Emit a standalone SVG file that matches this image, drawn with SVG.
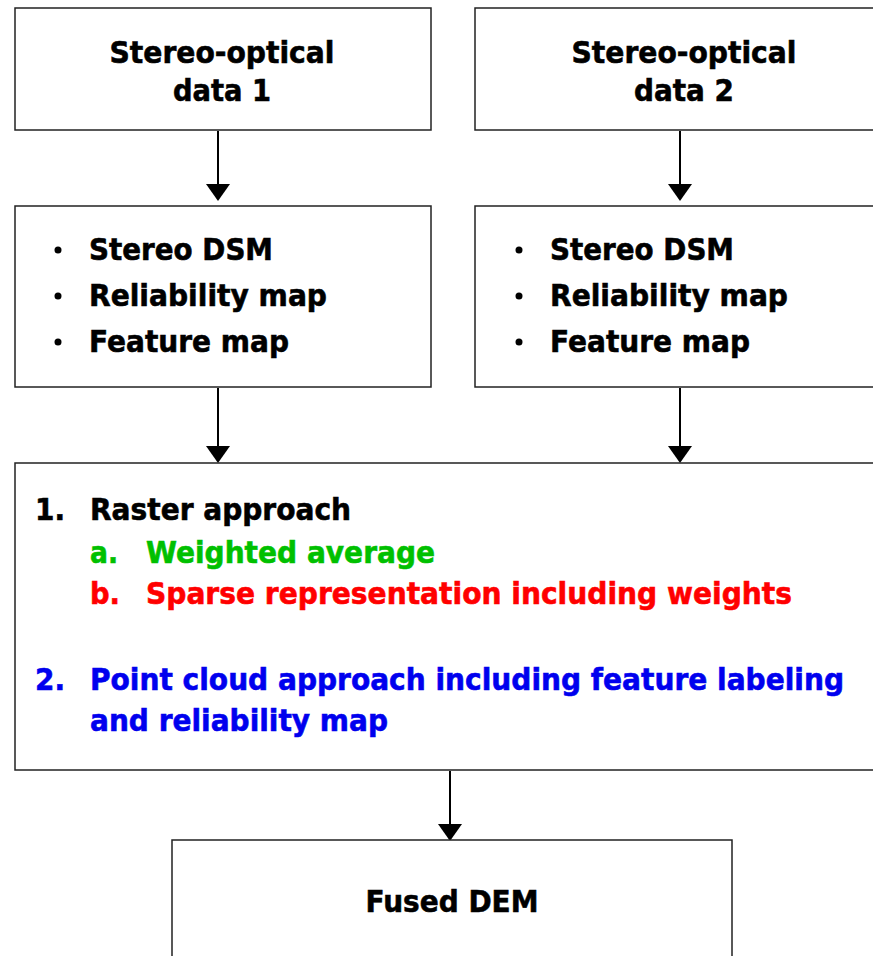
<svg xmlns="http://www.w3.org/2000/svg" width="873" height="956" viewBox="0 0 873 956">
<style>
.box{fill:#fff;stroke:#222;stroke-width:1.5}
text{font-family:"DejaVu Sans","Liberation Sans",sans-serif;font-weight:bold;font-size:30px;fill:#000;stroke:#000;stroke-width:0.6}
.c{text-anchor:middle}
text.g{fill:#00c000;stroke:#00c000}
text.r{fill:#ff0000;stroke:#ff0000}
text.b{fill:#0000ee;stroke:#0000ee}
.ln{stroke:#000;stroke-width:2}
</style>
<g id="connectors">
<line class="ln" x1="218" y1="131" x2="218" y2="186"/>
<path d="M206,184 L230,184 L218,201 Z"/>
<line class="ln" x1="680" y1="131" x2="680" y2="186"/>
<path d="M668,184 L692,184 L680,201 Z"/>
<line class="ln" x1="218" y1="388" x2="218" y2="447"/>
<path d="M206,446 L230,446 L218,463 Z"/>
<line class="ln" x1="680" y1="388" x2="680" y2="447"/>
<path d="M668,446 L692,446 L680,463 Z"/>
<line class="ln" x1="450" y1="771" x2="450" y2="825"/>
<path d="M438,824 L462,824 L450,841 Z"/>
</g>
<g id="n1">
<rect class="box" x="15" y="8" width="416" height="122"/>
<text x="222" y="63" class="c" textLength="225" lengthAdjust="spacingAndGlyphs">Stereo-optical</text>
<text x="222" y="101" class="c" textLength="98" lengthAdjust="spacingAndGlyphs">data 1</text>
</g>
<g id="n2">
<rect class="box" x="475" y="8" width="410" height="122"/>
<text x="684" y="63" class="c" textLength="225" lengthAdjust="spacingAndGlyphs">Stereo-optical</text>
<text x="684" y="101" class="c" textLength="100" lengthAdjust="spacingAndGlyphs">data 2</text>
</g>
<g id="n3">
<rect class="box" x="15" y="206" width="416" height="181"/>
<circle cx="58" cy="250" r="3.5"/><circle cx="58" cy="296" r="3.5"/><circle cx="58" cy="342" r="3.5"/>
<text x="89" y="260" textLength="184" lengthAdjust="spacingAndGlyphs">Stereo DSM</text>
<text x="89" y="306" textLength="238" lengthAdjust="spacingAndGlyphs">Reliability map</text>
<text x="89" y="352" textLength="200" lengthAdjust="spacingAndGlyphs">Feature map</text>
</g>
<g id="n4">
<rect class="box" x="475" y="206" width="410" height="181"/>
<circle cx="519" cy="250" r="3.5"/><circle cx="519" cy="296" r="3.5"/><circle cx="519" cy="342" r="3.5"/>
<text x="550" y="260" textLength="184" lengthAdjust="spacingAndGlyphs">Stereo DSM</text>
<text x="550" y="306" textLength="238" lengthAdjust="spacingAndGlyphs">Reliability map</text>
<text x="550" y="352" textLength="200" lengthAdjust="spacingAndGlyphs">Feature map</text>
</g>
<g id="n5">
<rect class="box" x="15" y="463" width="870" height="307"/>
<text x="35" y="520" textLength="30" lengthAdjust="spacingAndGlyphs">1.</text>
<text x="90" y="520" textLength="261" lengthAdjust="spacingAndGlyphs">Raster approach</text>
<text x="90" y="563" class="g" textLength="28" lengthAdjust="spacingAndGlyphs">a.</text>
<text x="146" y="563" class="g" textLength="289" lengthAdjust="spacingAndGlyphs">Weighted average</text>
<text x="90" y="604" class="r" textLength="30" lengthAdjust="spacingAndGlyphs">b.</text>
<text x="146" y="604" class="r" textLength="646" lengthAdjust="spacingAndGlyphs">Sparse representation including weights</text>
<text x="35" y="690" class="b" textLength="30" lengthAdjust="spacingAndGlyphs">2.</text>
<text x="90" y="690" class="b" textLength="754" lengthAdjust="spacingAndGlyphs">Point cloud approach including feature labeling</text>
<text x="90" y="731" class="b" textLength="298" lengthAdjust="spacingAndGlyphs">and reliability map</text>
</g>
<g id="n6">
<rect class="box" x="172" y="840" width="560" height="130"/>
<text x="452" y="912" class="c" textLength="173" lengthAdjust="spacingAndGlyphs">Fused DEM</text>
</g>
</svg>
